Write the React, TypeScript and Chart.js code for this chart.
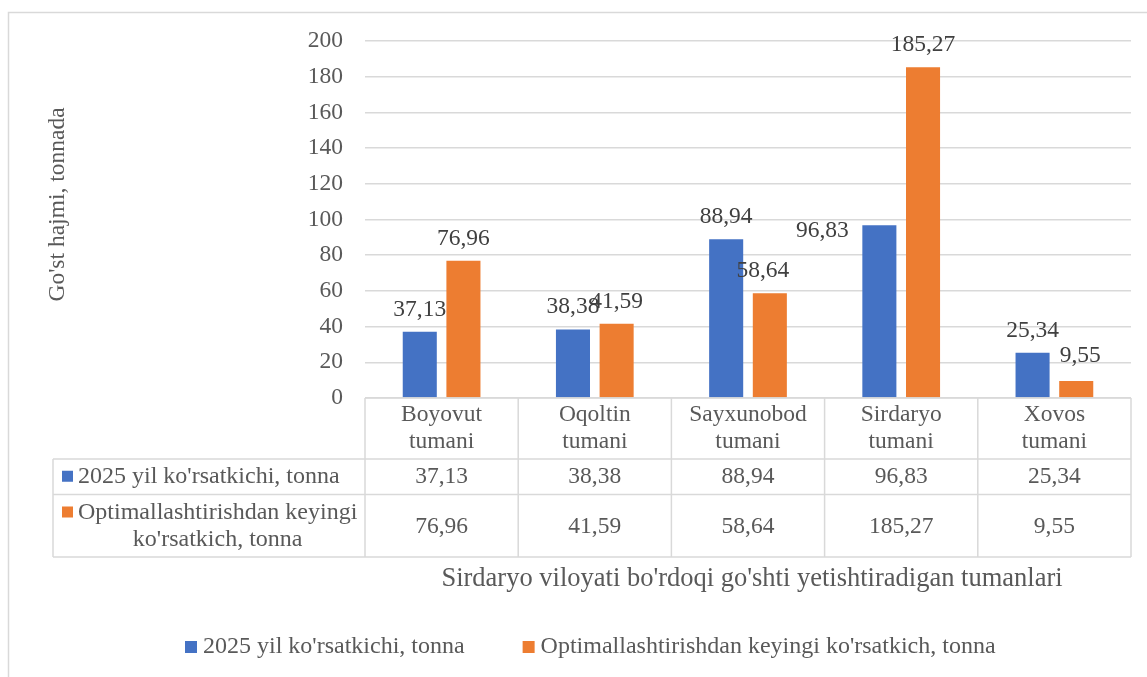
import React, { useEffect, useRef } from "react";
import { Chart, registerables } from "chart.js";

Chart.register(...registerables);

// ---- data ----
const categoryLines: string[][] = [
  ["Boyovut", "tumani"],
  ["Oqoltin", "tumani"],
  ["Sayxunobod", "tumani"],
  ["Sirdaryo", "tumani"],
  ["Xovos", "tumani"],
];
const categories = categoryLines.map((l) => l.join(" "));
const values2025 = [37.13, 38.38, 88.94, 96.83, 25.34];
const valuesOptimal = [76.96, 41.59, 58.64, 185.27, 9.55];
const seriesNames = [
  "2025 yil ko'rsatkichi, tonna",
  "Optimallashtirishdan keyingi ko'rsatkich, tonna",
];
const seriesTableLines: string[][] = [
  ["2025 yil ko'rsatkichi, tonna"],
  ["Optimallashtirishdan keyingi", "ko'rsatkich, tonna"],
];
const yMin = 0;
const yMax = 200;
const yStep = 20;
const yTitle = "Go'st hajmi, tonnada";
const xTitle = "Sirdaryo viloyati bo'rdoqi go'shti yetishtiradigan tumanlari";

// ---- styles ----
const COLORS = ["#4472C4", "#ED7D31"];
const FONT = "'Liberation Serif', 'Times New Roman', serif";
const FS = 23.5;
const FS_LEG = 24;
const FS_XT = 26.5;
const TEXT = "#595959";
const LABEL = "#404040";
const LINE = "#d9d9d9";
// manual label nudges (dataset, index) -> [dx, dy]
const labelNudges: Record<string, [number, number]> = {
  "0-3": [-57, 28],
  "1-2": [-7, 0],
  "1-4": [4, -3],
};

const fmt = (v: number) => v.toFixed(2).replace(".", ",");

const overlay = {
  id: "overlay",
  beforeDraw(chart: any) {
    const ctx = chart.ctx;
    ctx.save();
    ctx.fillStyle = "#ffffff";
    ctx.fillRect(0, 0, chart.width, chart.height);
    ctx.strokeStyle = LINE;
    ctx.lineWidth = 1.5;
    ctx.strokeRect(8.5, 12.5, chart.width + 20, chart.height + 20);
    ctx.restore();
  },
  afterDatasetsDraw(chart: any) {
    const ctx = chart.ctx;
    ctx.save();
    ctx.font = `${FS}px ${FONT}`;
    ctx.fillStyle = LABEL;
    ctx.textAlign = "center";
    ctx.textBaseline = "alphabetic";
    chart.data.datasets.forEach((ds: any, di: number) => {
      const meta = chart.getDatasetMeta(di);
      meta.data.forEach((el: any, i: number) => {
        const n = labelNudges[`${di}-${i}`] || [0, 0];
        ctx.fillText(fmt(ds.data[i]), el.x + n[0], el.y - 16 + n[1]);
      });
    });
    ctx.restore();
  },
  afterDraw(chart: any) {
    const ctx = chart.ctx;
    const ca = chart.chartArea;
    const xs = chart.scales.x;
    const n = categories.length;
    const colW = (ca.right - ca.left) / n;
    const tableLeft = 53;
    const yTop = ca.bottom;
    const yH = yTop + 61;
    const yR1 = yH + 35.5;
    const yR2 = yR1 + 62.5;

    ctx.save();
    ctx.strokeStyle = LINE;
    ctx.lineWidth = 1.5;
    ctx.beginPath();
    ctx.moveTo(ca.left, yTop);
    ctx.lineTo(ca.right, yTop);
    [yH, yR1, yR2].forEach((y) => {
      ctx.moveTo(tableLeft, y);
      ctx.lineTo(ca.right, y);
    });
    ctx.moveTo(tableLeft, yH);
    ctx.lineTo(tableLeft, yR2);
    for (let i = 0; i <= n; i++) {
      const x = ca.left + i * colW;
      ctx.moveTo(x, yTop);
      ctx.lineTo(x, yR2);
    }
    ctx.stroke();

    // y title
    ctx.save();
    ctx.font = `${FS}px ${FONT}`;
    ctx.fillStyle = TEXT;
    ctx.textAlign = "center";
    ctx.textBaseline = "middle";
    ctx.translate(58, (ca.top + ca.bottom) / 2 - 15);
    ctx.rotate(-Math.PI / 2);
    ctx.fillText(yTitle, 0, 0);
    ctx.restore();

    ctx.font = `${FS}px ${FONT}`;
    ctx.fillStyle = TEXT;
    ctx.textAlign = "center";
    ctx.textBaseline = "middle";
    categoryLines.forEach((lines, i) => {
      const cx = xs.getPixelForValue(i);
      lines.forEach((t, li) => ctx.fillText(t, cx, yTop + 17 + li * 27));
      ctx.fillText(fmt(values2025[i]), cx, (yH + yR1) / 2);
      ctx.fillText(fmt(valuesOptimal[i]), cx, (yR1 + yR2) / 2 + 1);
    });

    // series names in table
    ctx.font = `${FS_LEG}px ${FONT}`;
    const keyX = 62;
    const textX = 78;
    const rowLineY = [[(yH + yR1) / 2], [yR1 + 18, yR1 + 45]];
    seriesTableLines.forEach((lines, si) => {
      ctx.fillStyle = COLORS[si];
      ctx.fillRect(keyX, rowLineY[si][0] - 6, 11, 11);
      ctx.fillStyle = TEXT;
      const w0 = ctx.measureText(lines[0]).width;
      lines.forEach((t, li) => {
        if (li === 0) {
          ctx.textAlign = "left";
          ctx.fillText(t, textX, rowLineY[si][li]);
        } else {
          ctx.textAlign = "center";
          ctx.fillText(t, textX + w0 / 2, rowLineY[si][li]);
        }
      });
    });

    // x title
    ctx.font = `${FS_XT}px ${FONT}`;
    ctx.textAlign = "center";
    ctx.fillText(xTitle, (ca.left + ca.right) / 2 + 4, 579);

    // bottom legend
    ctx.font = `${FS_LEG}px ${FONT}`;
    let lx = 185;
    const ly = 647;
    seriesNames.forEach((name, si) => {
      ctx.fillStyle = COLORS[si];
      ctx.fillRect(lx, ly - 6, 12, 12);
      ctx.fillStyle = TEXT;
      ctx.textAlign = "left";
      ctx.fillText(name, lx + 18, ly);
      lx += 18 + ctx.measureText(name).width + 58;
    });
    ctx.restore();
  },
};

export default function App() {
  const ref = useRef<HTMLCanvasElement>(null);
  useEffect(() => {
    if (!ref.current) return;
    const chart = new Chart(ref.current, {
      type: "bar",
      data: {
        labels: categories,
        datasets: [
          {
            label: seriesNames[0],
            data: values2025,
            backgroundColor: COLORS[0],
            categoryPercentage: 0.57,
            barPercentage: 0.78,
          },
          {
            label: seriesNames[1],
            data: valuesOptimal,
            backgroundColor: COLORS[1],
            categoryPercentage: 0.57,
            barPercentage: 0.78,
          },
        ],
      },
      options: {
        responsive: false,
        animation: false,
        layout: { padding: { left: 0, right: 16, top: 41, bottom: 279 } },
        plugins: {
          legend: { display: false },
          tooltip: { enabled: false },
          title: { display: false },
        },
        scales: {
          x: { display: false },
          y: {
            min: yMin,
            max: yMax,
            ticks: {
              stepSize: yStep,
              color: TEXT,
              font: { family: FONT, size: FS },
              padding: 22,
            },
            grid: { color: LINE, lineWidth: 1.5, drawTicks: false },
            border: { display: false },
            title: { display: false, text: yTitle },
            afterFit: (s: any) => {
              s.width = 365;
            },
          },
        },
      },
      plugins: [overlay],
    });
    return () => chart.destroy();
  }, []);
  return (
    <canvas
      ref={ref}
      width={1147}
      height={677}
      style={{ position: "absolute", left: 0, top: 0, display: "block" }}
    />
  );
}
